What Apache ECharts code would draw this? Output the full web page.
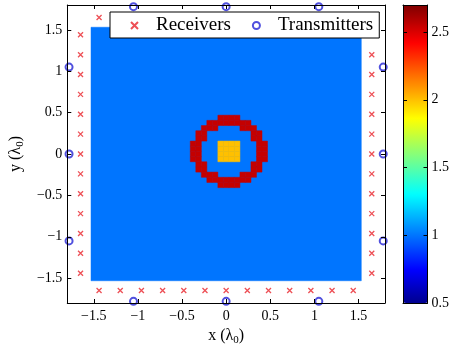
<!DOCTYPE html>
<html>
<head>
<meta charset="utf-8">
<script src="https://cdn.jsdelivr.net/npm/echarts@6/dist/echarts.min.js"></script>
<style>html,body{margin:0;background:#fff}</style>
</head>
<body>
<div id="chart" style="width:452px;height:352px"></div>
<script>
// receivers (red x), on four lines round the domain
var rxLine = [-1.44, -1.2, -0.96, -0.72, -0.48, -0.24, 0, 0.24, 0.48, 0.72, 0.96, 1.2, 1.44];
var rxOffset = 1.65;
// transmitters (blue o)
var txLine = [-1.05, 0, 1.05];
var txOffset = 1.78;

// profile values
var bgValue = 1;
var ringValue = 2.55;
var coreValue = 2;
// ring: '#' ring, 'o' core, '.' background, top row first
var profileRows = [
  '.....####.....',
  '...########...',
  '..###....###..',
  '.##........##.',
  '.##........##.',
  '##...oooo...##',
  '##...oooo...##',
  '##...oooo...##',
  '##...oooo...##',
  '.##........##.',
  '.##........##.',
  '..###....###..',
  '...########...',
  '.....####.....'
];

var axisTicks = [-1.5, -1, -0.5, 0, 0.5, 1, 1.5];
var barTicks = [0.5, 1, 1.5, 2, 2.5];
var barMin = 0.5, barMax = 2.7;

// geometry of the pixel grid
var domainHalf = 1.53125;
var cell = 0.0625;
var ringLeft = -0.40625, ringTop = 0.46875;

var cells = [[-domainHalf, domainHalf, -domainHalf, domainHalf, bgValue]];
profileRows.forEach(function (row, r) {
  for (var c = 0; c < row.length; c++) {
    var ch = row.charAt(c);
    if (ch === '.') continue;
    var x0 = ringLeft + c * cell, y1 = ringTop - r * cell;
    cells.push([x0, x0 + cell, y1 - cell, y1, ch === '#' ? ringValue : coreValue]);
  }
});

var rxData = [];
rxLine.forEach(function (v) {
  rxData.push([-rxOffset, v], [rxOffset, v], [v, -rxOffset], [v, rxOffset]);
});
var txData = [];
txLine.forEach(function (v) {
  txData.push([-txOffset, v], [txOffset, v], [v, -txOffset], [v, txOffset]);
});

var font = 'Liberation Serif';

// matlab style jet(64)
function jetMap(m) {
  var n = Math.ceil(m / 4), u = [], i;
  for (i = 1; i <= n; i++) u.push(i / n);
  for (i = 1; i < n; i++) u.push(1);
  for (i = n; i >= 1; i--) u.push(i / n);
  var g0 = Math.ceil(n / 2) - (m % 4 === 1 ? 1 : 0);
  var rgb = [];
  for (i = 0; i < m; i++) rgb.push([0, 0, 0]);
  for (i = 0; i < u.length; i++) {
    var g = g0 + i + 1, r = g + n, b = g - n;
    if (g <= m) rgb[g - 1][1] = u[i];
    if (r <= m) rgb[r - 1][0] = u[i];
    if (b >= 1) rgb[b - 1][2] = u[i];
  }
  return rgb.map(function (c) {
    return 'rgb(' + c.map(function (v) { return Math.round(v * 255); }).join(',') + ')';
  });
}
var jet = jetMap(64);

function fmt(v) { return String(v).replace('-', '\u2212'); }
var nameRich = {
  n: { fontFamily: font, fontSize: 16, color: '#000', lineHeight: 20 },
  s: { fontFamily: font, fontSize: 11, color: '#000', lineHeight: 10, verticalAlign: 'bottom' }
};

function frameAxis(grid, pos, min, max, ticks) {
  return {
    gridIndex: grid, type: 'value', position: pos, min: min, max: max, z: 10,
    axisLine: { show: true, onZero: false, lineStyle: { color: '#000', width: 1 } },
    axisTick: ticks ? { inside: true, length: 4, customValues: ticks, lineStyle: { color: '#000' } } : { show: false },
    axisLabel: { show: false },
    splitLine: { show: false }
  };
}

var xMain = frameAxis(0, 'bottom', -1.8, 1.8, axisTicks);
xMain.axisLabel = { show: true, customValues: axisTicks, formatter: fmt, color: '#000', fontFamily: font, fontSize: 14, margin: 6 };
xMain.name = '{n|x (\u03bb}{s|0}{n|)}';
xMain.nameLocation = 'middle';
xMain.nameGap = 21;
xMain.nameTextStyle = { rich: nameRich };

var yMain = frameAxis(0, 'left', -1.8, 1.8, axisTicks);
yMain.axisLabel = { show: true, customValues: axisTicks, formatter: fmt, color: '#000', fontFamily: font, fontSize: 14, margin: 5 };
yMain.name = '{n|y (\u03bb}{s|0}{n|)}';
yMain.nameLocation = 'middle';
yMain.nameGap = 36;
yMain.nameTextStyle = { rich: nameRich };

var yBar = frameAxis(1, 'right', barMin, barMax, barTicks);
yBar.axisLabel = { show: true, customValues: barTicks, color: '#000', fontFamily: font, fontSize: 14, margin: 4 };

var myChart = echarts.init(document.getElementById('chart'));
myChart.setOption({
  animation: false,
  backgroundColor: '#fff',
  grid: [
    { left: 67, top: 5, width: 318, height: 298 },
    { left: 403, top: 5, width: 25, height: 298 }
  ],
  xAxis: [
    xMain,
    frameAxis(0, 'top', -1.8, 1.8, axisTicks),
    frameAxis(1, 'bottom', 0, 1, null),
    frameAxis(1, 'top', 0, 1, null)
  ],
  yAxis: [
    yMain,
    frameAxis(0, 'right', -1.8, 1.8, axisTicks),
    frameAxis(1, 'left', barMin, barMax, barTicks),
    yBar
  ],
  visualMap: {
    type: 'continuous', min: barMin, max: barMax, dimension: 4, seriesIndex: 0,
    calculable: false, hoverLink: false, orient: 'vertical',
    left: 403, top: 5, itemWidth: 25, itemHeight: 298, padding: 0,
    inRange: { color: jet }
  },
  legend: {
    data: ['Receivers', 'Transmitters'],
    left: 110, top: 12, padding: [4, 6, 3, 20], itemGap: 21,
    itemWidth: 33, itemHeight: 7, selectedMode: false,
    backgroundColor: '#fff', borderColor: '#000', borderWidth: 1,
    textStyle: { fontFamily: font, fontSize: 19, color: '#000' }
  },
  series: [
    {
      type: 'custom', name: 'profile', xAxisIndex: 0, yAxisIndex: 0, silent: true,
      encode: { x: [0, 1], y: [2, 3] },
      data: cells,
      renderItem: function (params, api) {
        var p0 = api.coord([api.value(0), api.value(3)]);
        var p1 = api.coord([api.value(1), api.value(2)]);
        var c = api.visual('color');
        return {
          type: 'rect',
          shape: { x: p0[0], y: p0[1], width: p1[0] - p0[0], height: p1[1] - p0[1] },
          style: { fill: c, stroke: c, lineWidth: 0.5 }
        };
      }
    },
    {
      type: 'scatter', name: 'Receivers', xAxisIndex: 0, yAxisIndex: 0,
      symbol: 'path://M0,0L10,10M10,0L0,10', symbolSize: 5,
      itemStyle: { color: '#e8232a', borderColor: '#e8232a', borderWidth: 1.3 },
      data: rxData
    },
    {
      type: 'scatter', name: 'Transmitters', xAxisIndex: 0, yAxisIndex: 0,
      symbol: 'emptyCircle', symbolSize: 7,
      itemStyle: { color: '#2424d6', borderWidth: 1.2 },
      data: txData
    }
  ]
});
</script>
</body>
</html>
